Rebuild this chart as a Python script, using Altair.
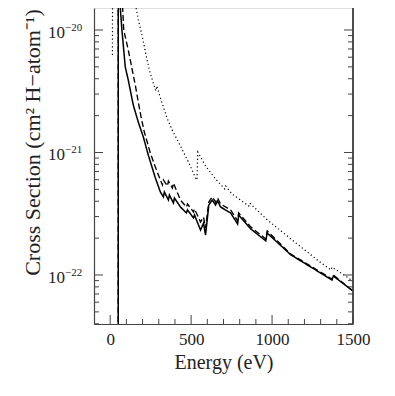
import altair as alt
import pandas as pd

# ---- data (energy in eV, cross section in cm^2 per H atom) ----
solid_E = [49.5, 50.0, 58.9, 72.5, 93.0, 111.6, 142.6, 173.6, 204.6, 235.6, 279.0, 310.0,
           328.6, 334.8, 359.6, 365.8, 390.6, 396.8, 434.0, 471.0, 477.4, 514.6, 520.8,
           558.0, 576.6, 589.0, 609.4, 630.5, 651.0, 663.4, 682.0, 744.0, 787.0, 793.6,
           868.0, 961.0, 970.0, 1116.0, 1240.0, 1370.0, 1379.0, 1500.0]
solid_S = [1e-24, 1e-19, 1.76e-20, 1.0e-20, 5.0e-21, 3.91e-21, 2.44e-21, 1.77e-21, 1.34e-21,
           9.5e-22, 6.2e-22, 4.76e-22, 4.34e-22, 4.76e-22, 4.09e-22, 4.5e-22, 3.87e-22,
           4.25e-22, 3.59e-22, 3.21e-22, 3.40e-22, 2.92e-22, 3.09e-22, 2.33e-22, 2.65e-22,
           2.12e-22, 3.73e-22, 4.09e-22, 3.73e-22, 4.02e-22, 3.59e-22, 3.21e-22, 2.61e-22,
           3.09e-22, 2.38e-22, 1.90e-22, 2.20e-22, 1.46e-22, 1.16e-22, 9.1e-23, 9.8e-23, 7.4e-23]

dashed_E = [49.5, 50.0, 74.4, 83.7, 111.6, 130.2, 155.0, 173.6, 192.2, 210.8, 248.0, 279.0,
            310.0, 322.4, 328.6, 353.4, 359.6, 384.4, 390.6, 434.0, 471.0, 477.4, 514.6,
            520.8, 558.0, 576.6, 589.0, 609.4, 630.5, 651.0, 663.4, 682.0, 744.0, 787.4,
            793.6, 868.0, 961.0, 970.0, 1116.0, 1240.0, 1370.0, 1379.0, 1500.0]
dashed_S = [1e-24, 1e-19, 1.76e-20, 1.0e-20, 6.87e-21, 5.18e-21, 3.56e-21, 2.58e-21, 1.91e-21,
            1.47e-21, 9.9e-22, 7.6e-22, 5.97e-22, 5.43e-22, 5.97e-22, 5.33e-22, 5.85e-22,
            5.13e-22, 5.63e-22, 4.09e-22, 3.59e-22, 3.80e-22, 3.27e-22, 3.46e-22, 2.71e-22,
            2.97e-22, 2.42e-22, 3.94e-22, 4.34e-22, 3.94e-22, 4.25e-22, 3.80e-22, 3.40e-22,
            2.76e-22, 3.21e-22, 2.47e-22, 1.97e-22, 2.29e-22, 1.48e-22, 1.18e-22, 9.27e-23,
            1.0e-22, 7.4e-23]

dotted_E = [14.0, 15.0, 150.6, 173.6, 196.5, 221.3, 241.8, 260.4, 282.1, 288.3, 310.0, 351.5,
            382.5, 434.0, 483.6, 527.0, 536.3, 541.2, 589.0, 651.0, 706.8, 713.0, 753.3,
            855.5, 861.7, 971.5, 1116.0, 1281.5, 1364.0, 1370.0, 1467.5, 1500.0]
dotted_S = [6.25e-21, 1e-19, 1.76e-20, 1.21e-20, 9.1e-21, 6.25e-21, 4.71e-21, 3.91e-21,
            3.18e-21, 3.49e-21, 2.79e-21, 1.91e-21, 1.53e-21, 1.13e-21, 8.35e-22, 6.19e-22,
            5.97e-22, 1.01e-21, 7.76e-22, 6.08e-22, 5.04e-22, 5.33e-22, 4.58e-22, 3.66e-22,
            3.87e-22, 2.81e-22, 1.97e-22, 1.32e-22, 1.10e-22, 1.16e-22, 9.55e-23, 8.85e-23]

series_names = ["solid", "dashed", "dotted"]
x_major = [0, 500, 1000, 1500]
x_minor = [100, 200, 300, 400, 600, 700, 800, 900, 1100, 1200, 1300, 1400]
y_major = [1e-22, 1e-21, 1e-20]
y_exponents = ["\u221222", "\u221221", "\u221220"]
X_DOMAIN = [-100, 1500]
Y_DOMAIN = [3.981e-23, 1.512e-20]
y_minor = [k * 10.0 ** e for e in (-23, -22, -21, -20) for k in range(2, 10)
           if Y_DOMAIN[0] <= k * 10.0 ** e <= Y_DOMAIN[1]]

rows = []
for name, es, ss in zip(series_names, [solid_E, dashed_E, dotted_E], [solid_S, dashed_S, dotted_S]):
    for i, (e, s) in enumerate(zip(es, ss)):
        rows.append({"series": name, "E": e, "sigma": s, "order": i})
df = pd.DataFrame(rows)

W, H = 259, 316
FONT = "Liberation Serif"
AX = "#444444"
TXT = "#222222"


def xs():
    return alt.Scale(domain=X_DOMAIN, nice=False, zero=False)


def ys():
    return alt.Scale(type="log", domain=Y_DOMAIN, nice=False)


lines = alt.Chart(df).mark_line(clip=True, color="black").encode(
    x=alt.X("E:Q", scale=xs(), axis=alt.Axis(
        values=x_major, ticks=False, domain=True, domainColor=AX, domainWidth=1.2,
        format="d", labelFlush=False, labelPadding=7, labelFontSize=17, labelFont=FONT,
        labelColor=TXT, title="Energy (eV)", titleFont=FONT, titleFontSize=20,
        titleFontWeight="normal", titleColor=TXT, titlePadding=5, grid=False)),
    y=alt.Y("sigma:Q", scale=ys(), axis=alt.Axis(
        values=y_major, ticks=False, labels=False, domain=True, domainColor=AX,
        domainWidth=1.2, grid=False,
        title="Cross Section (cm\u00b2 H\u2212atom\u207b\u00b9)", titleFont=FONT,
        titleFontSize=22, titleFontWeight="normal", titleColor=TXT,
        titleAngle=270, titleAlign="center", titleBaseline="middle",
        titleX=-62, titleY=134)),
    strokeDash=alt.StrokeDash("series:N", scale=alt.Scale(domain=series_names,
                              range=[[1, 0], [6, 3], [1.2, 2.6]]), legend=None),
    strokeWidth=alt.StrokeWidth("series:N", scale=alt.Scale(domain=series_names,
                                range=[1.5, 1.2, 1.0]), legend=None),
    detail="series:N",
    order="order:Q",
)

ymaj_df = pd.DataFrame({"v": y_major, "exp": y_exponents})
ymin_df = pd.DataFrame({"v": y_minor})
xmaj_df = pd.DataFrame({"v": x_major})
xmin_df = pd.DataFrame({"v": x_minor})


def yrule(data, x0, x1):
    return alt.Chart(data).mark_rule(color=AX, strokeWidth=1).encode(
        y=alt.Y("v:Q", scale=ys(), axis=None), x=alt.value(x0), x2=alt.value(x1))


def xrule(data, length):
    return alt.Chart(data).mark_rule(color=AX, strokeWidth=1).encode(
        x=alt.X("v:Q", scale=xs(), axis=None), y=alt.value(H), y2=alt.value(H - length))


ticks = [
    yrule(ymaj_df, 0, 9), yrule(ymin_df, 0, 5),
    yrule(ymaj_df, W, W - 9), yrule(ymin_df, W, W - 5),
    xrule(xmaj_df, 9), xrule(xmin_df, 5),
]

right_border = alt.Chart(ymaj_df).mark_rule(color=AX, strokeWidth=1.2).encode(
    x=alt.value(W), y=alt.value(0), y2=alt.value(H))

base_lbl = alt.Chart(ymaj_df).mark_text(
    font=FONT, fontSize=17, color=TXT, align="right", baseline="middle", dy=3
).encode(y=alt.Y("v:Q", scale=ys(), axis=None), x=alt.value(-29), text=alt.value("10"))

exp_lbl = alt.Chart(ymaj_df).mark_text(
    font=FONT, fontSize=11, color=TXT, align="left", baseline="middle", dy=-2
).encode(y=alt.Y("v:Q", scale=ys(), axis=None), x=alt.value(-29), text="exp:N")

chart = alt.layer(lines, *ticks, right_border, base_lbl, exp_lbl).resolve_scale(
    x="independent", y="independent"
).properties(
    width=W, height=H,
    autosize=alt.AutoSizeParams(type="none"),
    padding={"left": 86, "top": 0, "right": 30, "bottom": 64},
).configure_view(stroke=None).configure(background="white")

chart.save("out.html", embed_options={"renderer": "svg", "actions": False})
